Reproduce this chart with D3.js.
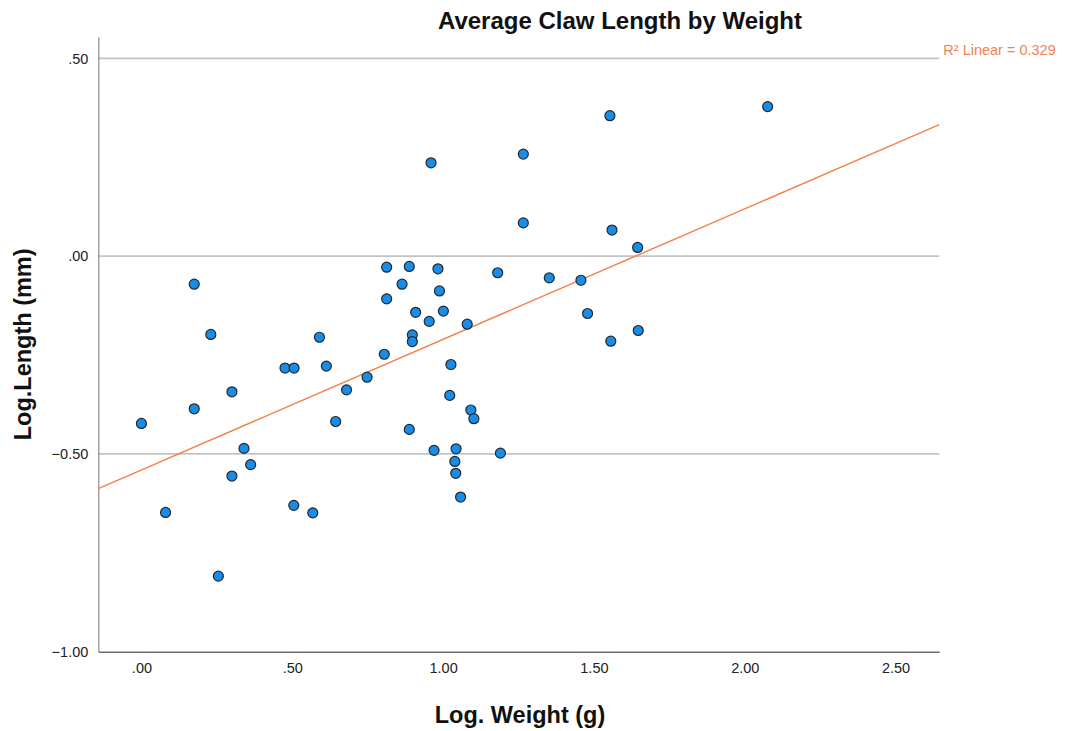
<!DOCTYPE html>
<html>
<head>
<meta charset="utf-8">
<script src="https://cdn.jsdelivr.net/npm/d3@7"></script>
<style>
  html, body { margin: 0; padding: 0; background: #fff; }
  svg { display: block; font-family: "Liberation Sans", Arial, sans-serif; }
</style>
</head>
<body>
<svg id="chart" width="1075" height="731"></svg>
<script>
// ---- data ----
const logWeight = [
  0.00, 0.08, 0.175, 0.175, 0.23, 0.255, 0.30, 0.30, 0.34, 0.362,
  0.476, 0.506, 0.505, 0.568, 0.59, 0.613, 0.68, 0.644, 0.748, 0.805,
  0.813, 0.813, 0.864, 0.888, 0.898, 0.898, 0.909, 0.888, 0.954, 0.96,
  0.983, 0.988, 1.001, 0.97, 1.026, 1.022, 1.043, 1.039, 1.042, 1.058,
  1.08, 1.092, 1.102, 1.181, 1.19, 1.266, 1.266, 1.352, 1.457, 1.479,
  1.553, 1.56, 1.556, 1.645, 1.647, 2.076
];
const logLength = [
  -0.423, -0.648, -0.071, -0.386, -0.198, -0.809, -0.343, -0.556, -0.486, -0.527,
  -0.283, -0.283, -0.630, -0.649, -0.205, -0.278, -0.338, -0.418, -0.306, -0.248,
  -0.028, -0.108, -0.071, -0.026, -0.199, -0.216, -0.142, -0.438, -0.165, 0.236,
  -0.032, -0.088, -0.139, -0.491, -0.274, -0.352, -0.487, -0.519, -0.549, -0.609,
  -0.172, -0.389, -0.411, -0.042, -0.498, 0.258, 0.084, -0.055, -0.061, -0.145,
  0.355, 0.066, -0.215, 0.022, -0.188, 0.378
];
const xTicks = [0, 0.5, 1.0, 1.5, 2.0, 2.5];
const yTicks = [-1.0, -0.5, 0.0, 0.5];
const yGrid = [-0.5, 0.0, 0.5];
const titleText = "Average Claw Length by Weight";
const xLabel = "Log. Weight (g)";
const yLabel = "Log.Length (mm)";
const fitLabel = "R\u00B2 Linear = 0.329";

// ---- layout ----
const xDomain = [-0.143, 2.645];
const yDomain = [-1.0, 0.554];
const plot = { left: 98.3, right: 939.3, top: 37, bottom: 651.7 };
const orange = "#f4844f";

const svg = d3.select("#chart");
const x = d3.scaleLinear().domain(xDomain).range([plot.left, plot.right]);
const y = d3.scaleLinear().domain(yDomain).range([plot.bottom, plot.top]);

const fmt = v => {
  const s = d3.format(".2f")(v);
  return s.replace(/^(-?)0\./, "$1.");
};

// gridlines
svg.append("g").selectAll("line").data(yGrid).join("line")
  .attr("x1", plot.left).attr("x2", plot.right)
  .attr("y1", d => y(d)).attr("y2", d => y(d))
  .attr("stroke", "#c4c4c4").attr("stroke-width", 1.6);

// axes
const xAxis = d3.axisBottom(x).tickValues(xTicks).tickFormat(fmt).tickSize(0).tickPadding(11);
const gx = svg.append("g").attr("transform", `translate(0,${plot.bottom})`).call(xAxis);
gx.select(".domain").attr("stroke", "#6e6e6e").attr("stroke-width", 1.6);
gx.selectAll("text").attr("font-size", 14.5).attr("fill", "#222")
  .attr("font-family", "Liberation Sans, Arial, sans-serif");

const yAxis = d3.axisLeft(y).tickValues(yTicks).tickFormat(fmt).tickSize(0).tickPadding(10);
const gy = svg.append("g").attr("transform", `translate(${plot.left},0)`).call(yAxis);
gy.select(".domain").attr("stroke", "#8a8a8a").attr("stroke-width", 1.2);
gy.selectAll("text").attr("font-size", 14.5).attr("fill", "#222")
  .attr("font-family", "Liberation Sans, Arial, sans-serif");

// linear fit computed from the data
const n = logWeight.length;
const mx = d3.mean(logWeight), my = d3.mean(logLength);
let sxy = 0, sxx = 0;
for (let i = 0; i < n; i++) {
  sxy += (logWeight[i] - mx) * (logLength[i] - my);
  sxx += (logWeight[i] - mx) ** 2;
}
const slope = sxy / sxx, intercept = my - slope * mx;
svg.append("line")
  .attr("x1", x(xDomain[0])).attr("y1", y(intercept + slope * xDomain[0]))
  .attr("x2", x(xDomain[1])).attr("y2", y(intercept + slope * xDomain[1]))
  .attr("stroke", orange).attr("stroke-width", 1.5);

svg.append("text").text(fitLabel)
  .attr("x", plot.right + 4).attr("y", 55)
  .attr("font-size", 14.5).attr("fill", orange);

// points
svg.append("g").selectAll("circle").data(d3.range(n)).join("circle")
  .attr("cx", i => x(logWeight[i])).attr("cy", i => y(logLength[i]))
  .attr("r", 5).attr("fill", "#1b8ce3")
  .attr("stroke", "#1c2a38").attr("stroke-width", 1.2);

// titles
svg.append("text").text(titleText)
  .attr("x", 620).attr("y", 29).attr("text-anchor", "middle")
  .attr("font-size", 24).attr("font-weight", "bold").attr("fill", "#111");

svg.append("text").text(xLabel)
  .attr("x", 520).attr("y", 723).attr("text-anchor", "middle")
  .attr("font-size", 23.5).attr("font-weight", "bold").attr("fill", "#111");

svg.append("text").text(yLabel)
  .attr("transform", `translate(31,${(plot.top + plot.bottom) / 2}) rotate(-90)`)
  .attr("text-anchor", "middle")
  .attr("font-size", 23.5).attr("font-weight", "bold").attr("fill", "#111");
</script>
</body>
</html>
